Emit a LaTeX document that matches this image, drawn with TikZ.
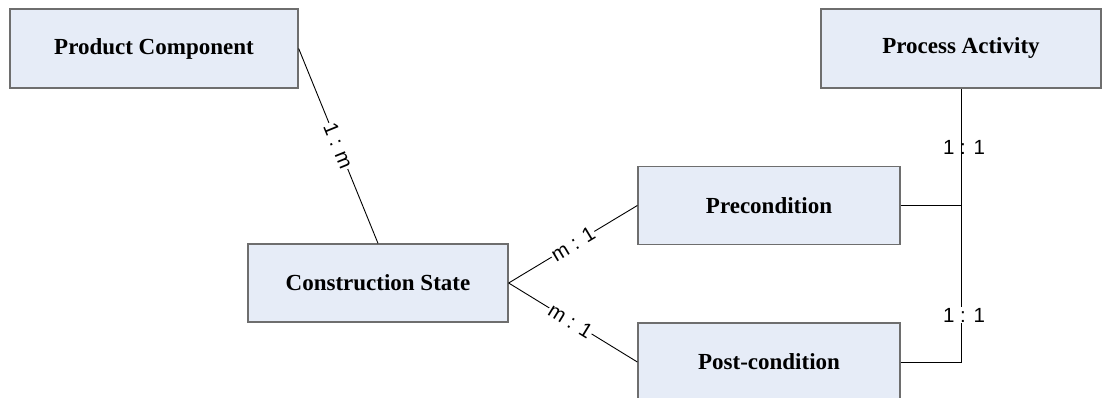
\documentclass[tikz,border=0pt]{standalone}
\usepackage{fontspec}
\setmainfont{Liberation Serif}
\newfontfamily\labfont{Liberation Sans}
\definecolor{boxfill}{HTML}{E6ECF7}
\definecolor{boxline}{HTML}{6E6E6E}
\tikzset{
  entity/.style={draw=boxline, line width=1.3pt, fill=boxfill, inner sep=0pt,
    font=\fontsize{23}{26}\selectfont\bfseries},
  conn/.style={draw=black, line width=0.9pt},
  card/.style={font=\labfont\fontsize{20.5}{22}\selectfont, fill=white, inner sep=1pt},
}
\begin{document}
\begin{tikzpicture}[x=1pt,y=-1pt]
\useasboundingbox (0,0) rectangle (1102,398);
\node[entity, minimum width=288pt, minimum height=79pt] (pc) at (154,48.5) {Product Component};
\node[entity, minimum width=260pt, minimum height=78pt] (cs) at (378,283) {Construction State};
\node[entity, minimum width=262pt, minimum height=78pt] (pre) at (769,205.5) {Precondition};
\node[entity, minimum width=262pt, minimum height=78pt] (post) at (769,362) {Post-condition};
\node[entity, minimum width=280pt, minimum height=79pt] (pa) at (961,48.5) {Process Activity};

\draw[conn] (pc.east) -- node[card, sloped, pos=0.5] {1 : m} (cs.north);
\draw[conn] (cs.east) -- node[card, sloped, pos=0.5] {m : 1} (pre.west);
\draw[conn] (cs.east) -- node[card, sloped, pos=0.48] {m : 1} (post.west);
\draw[conn] (pre.east) -| node[card, pos=0.75, xshift=3pt] {1 : 1} (pa.south);
\draw[conn] (post.east) -| node[card, pos=0.586, xshift=3pt] {1 : 1} (pa.south);
\end{tikzpicture}
\end{document}
